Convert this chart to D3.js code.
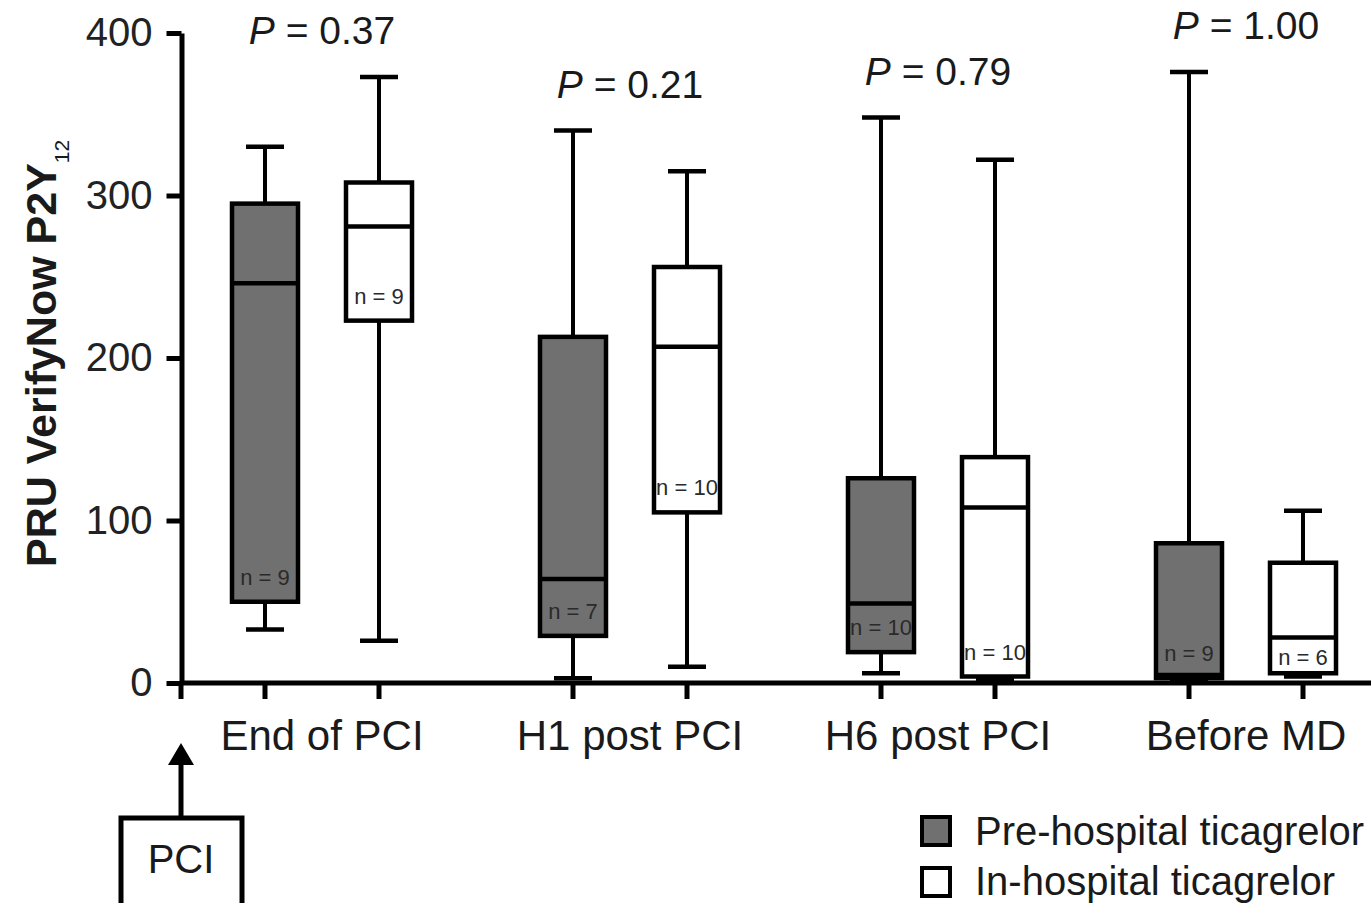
<!DOCTYPE html>
<html>
<head>
<meta charset="utf-8">
<script src="https://cdn.jsdelivr.net/npm/d3@7/dist/d3.min.js"></script>
<style>
  html, body { margin: 0; padding: 0; background: #fff; }
  svg { display: block; font-family: "Liberation Sans", Arial, Helvetica, sans-serif; }
</style>
</head>
<body>
<svg id="chart" width="1371" height="903"></svg>
<script>
// Time points and treatment groups
const categories = ["End of PCI", "H1 post PCI", "H6 post PCI", "Before MD"];
const groups = ["Pre-hospital ticagrelor", "In-hospital ticagrelor"];

// Pre-hospital ticagrelor: min, Q1, median, Q3, max, sample size
const preMin = [33, 3, 6, 2];
const preQ1 = [50, 29, 19, 3];
const preMedian = [246, 64, 49, 5];
const preQ3 = [295, 213, 126, 86];
const preMax = [330, 340, 348, 376];
const preN = [9, 7, 10, 9];

// In-hospital ticagrelor: min, Q1, median, Q3, max, sample size
const inMin = [26, 10, 2, 4];
const inQ1 = [223, 105, 4, 6];
const inMedian = [281, 207, 108, 28];
const inQ3 = [308, 256, 139, 74];
const inMax = [373, 315, 322, 106];
const inN = [9, 10, 10, 6];

// Between-group comparison at each time point
const pValues = ["0.37", "0.21", "0.79", "1.00"];

// Y axis ticks
const yTicks = [0, 100, 200, 300, 400];

const groupFill = { "Pre-hospital ticagrelor": "#707070", "In-hospital ticagrelor": "#ffffff" };
const textColor = "#1a1a1a";

const svg = d3.select("#chart");

const y = d3.scaleLinear().domain([0, 400]).range([683, 33]);
const xCat = d3.scalePoint().domain(categories).range([168, 1400]).padding(0.5);
const xGroup = d3.scalePoint().domain(groups).range([-57, 57]);
const boxW = 66;
const capW = 38;

const boxes = [];
categories.forEach((c, i) => {
  boxes.push({ cat: c, group: groups[0], min: preMin[i], q1: preQ1[i], med: preMedian[i], q3: preQ3[i], max: preMax[i], n: preN[i] });
  boxes.push({ cat: c, group: groups[1], min: inMin[i], q1: inQ1[i], med: inMedian[i], q3: inQ3[i], max: inMax[i], n: inN[i] });
});
const cx = d => xCat(d.cat) + xGroup(d.group);

// Y axis
const yAxis = d3.axisLeft(y).tickValues(yTicks).tickSize(15).tickSizeOuter(0).tickPadding(14);
const ga = svg.append("g").attr("transform", "translate(181.5,0)").call(yAxis);
ga.select(".domain").attr("stroke", "#000").attr("stroke-width", 5);
ga.selectAll(".tick line").attr("stroke", "#000").attr("stroke-width", 5);
ga.selectAll(".tick text").attr("fill", "#222").attr("font-size", 40).attr("font-family", null);

// Y axis title
const yt = svg.append("text")
  .attr("transform", "translate(56,567) rotate(-90)")
  .attr("font-size", 43).attr("font-weight", "bold").attr("fill", textColor);
yt.append("tspan").text("PRU VerifyNow P2Y");
yt.append("tspan").attr("font-size", 21).attr("font-weight", "normal").attr("dy", 13).text("12");

// Whiskers
const bg = svg.append("g");
bg.selectAll(".whisker").data(boxes).join("line")
  .attr("x1", cx).attr("x2", cx)
  .attr("y1", d => y(d.min)).attr("y2", d => y(d.max))
  .attr("stroke", "#000").attr("stroke-width", 4);
bg.selectAll(".capTop").data(boxes).join("line")
  .attr("x1", d => cx(d) - capW / 2).attr("x2", d => cx(d) + capW / 2)
  .attr("y1", d => y(d.max)).attr("y2", d => y(d.max))
  .attr("stroke", "#000").attr("stroke-width", 4.5);
bg.selectAll(".capBottom").data(boxes).join("line")
  .attr("x1", d => cx(d) - capW / 2).attr("x2", d => cx(d) + capW / 2)
  .attr("y1", d => y(d.min)).attr("y2", d => y(d.min))
  .attr("stroke", "#000").attr("stroke-width", 4.5);

// X axis line and ticks
svg.append("line").attr("x1", 181).attr("x2", 1371).attr("y1", y(0)).attr("y2", y(0))
  .attr("stroke", "#000").attr("stroke-width", 5);
const tickXs = [181].concat(boxes.map(cx));
svg.selectAll(".xtick").data(tickXs).join("line")
  .attr("x1", d => d).attr("x2", d => d).attr("y1", y(0)).attr("y2", y(0) + 16)
  .attr("stroke", "#000").attr("stroke-width", 5);

// Boxes
bg.selectAll(".box").data(boxes).join("rect")
  .attr("x", d => cx(d) - boxW / 2).attr("width", boxW)
  .attr("y", d => y(d.q3)).attr("height", d => y(d.q1) - y(d.q3))
  .attr("fill", d => groupFill[d.group]).attr("stroke", "#000").attr("stroke-width", 4.5);
bg.selectAll(".median").data(boxes).join("line")
  .attr("x1", d => cx(d) - boxW / 2).attr("x2", d => cx(d) + boxW / 2)
  .attr("y1", d => y(d.med)).attr("y2", d => y(d.med))
  .attr("stroke", "#000").attr("stroke-width", 4.5);

// Sample size labels inside each box
bg.selectAll(".nlab").data(boxes).join("text")
  .attr("x", cx)
  .attr("y", d => {
    const gap = y(d.q1) - y(d.med);
    return (gap > 20 && gap < 45) ? y(d.q1) - 8 : y(d.q1) - 17;
  })
  .attr("text-anchor", "middle").attr("font-size", 22).attr("fill", "#2a2a2a")
  .text(d => "n = " + d.n);

// Category labels
svg.selectAll(".catlab").data(categories).join("text")
  .attr("x", d => xCat(d)).attr("y", 750)
  .attr("text-anchor", "middle").attr("font-size", 42).attr("fill", textColor)
  .text(d => d);

// P values above each pair
const pl = svg.selectAll(".plab").data(categories).join("text")
  .attr("x", d => xCat(d))
  .attr("y", (d, i) => y(Math.max(preMax[i], inMax[i])) - 33)
  .attr("text-anchor", "middle").attr("font-size", 39).attr("fill", textColor);
pl.append("tspan").attr("font-style", "italic").text("P");
pl.append("tspan").text((d, i) => " = " + pValues[i]);

// PCI marker
svg.append("rect").attr("x", 121).attr("y", 818).attr("width", 121).attr("height", 92)
  .attr("fill", "#fff").attr("stroke", "#000").attr("stroke-width", 5);
svg.append("text").attr("x", 181).attr("y", 873).attr("text-anchor", "middle")
  .attr("font-size", 40).attr("fill", textColor).text("PCI");
svg.append("line").attr("x1", 181).attr("x2", 181).attr("y1", 816).attr("y2", 760)
  .attr("stroke", "#000").attr("stroke-width", 5);
svg.append("path").attr("d", "M181,743 L168,765 L194,765 Z").attr("fill", "#000");

// Legend
const lg = svg.append("g");
lg.selectAll("rect").data(groups).join("rect")
  .attr("x", 922).attr("y", (d, i) => 817 + i * 51).attr("width", 28).attr("height", 28)
  .attr("fill", d => groupFill[d]).attr("stroke", "#000").attr("stroke-width", 4);
lg.selectAll("text").data(groups).join("text")
  .attr("x", 975).attr("y", (d, i) => 845 + i * 50)
  .attr("font-size", 40).attr("fill", textColor)
  .text(d => d);
</script>
</body>
</html>
